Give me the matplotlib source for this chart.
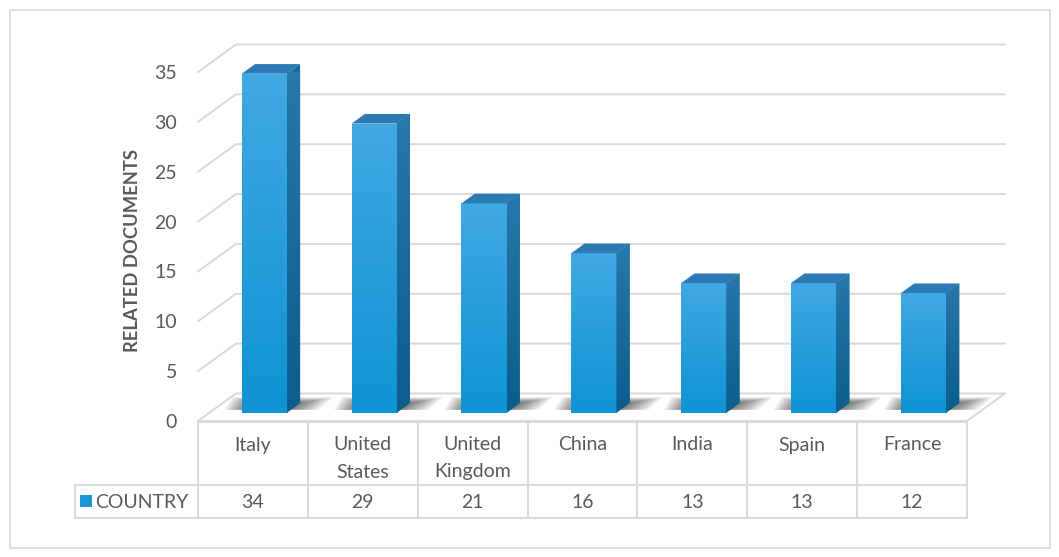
import numpy as np
import matplotlib
matplotlib.use("Agg")
import matplotlib.pyplot as plt
from matplotlib.patches import Polygon, Rectangle
from matplotlib.colors import LinearSegmentedColormap
from matplotlib.transforms import blended_transform_factory

countries = ["Italy", "United\nStates", "United\nKingdom", "China", "India", "Spain", "France"]
documents = [34, 29, 21, 16, 13, 13, 12]
series_name = "COUNTRY"
yticks = [0, 5, 10, 15, 20, 25, 30, 35]

W, H = 1059, 557
plt.rcParams['font.family'] = ['Lato', 'DejaVu Sans']
fig = plt.figure(figsize=(W / 100, H / 100), dpi=100)

# axes = front plane of the 3d box
px_l, px_r, px_b, px_t = 198, 967, 421, 72
ax = fig.add_axes([px_l / W, 1 - px_b / H, (px_r - px_l) / W, (px_b - px_t) / H])
ax.set_xlim(-0.5, len(countries) - 0.5)
ax.set_ylim(0, 35)
for s in ax.spines.values():
    s.set_visible(False)
ax.set_xticks([])
ax.set_yticks(yticks)
ax.tick_params(axis="y", length=0, pad=15, labelsize=14, labelcolor="#595959")
ax.patch.set_visible(False)

grid_c = "#d9d9d9"
dxf, dyf = 0.345, 2.76      # depth of the box (data units)
t0, tb = 0.30, 0.35         # bar front position / bar depth, as fractions of box depth
n = len(countries)

# walls: left diagonal + back gridlines
for v in yticks:
    ax.plot([-0.5, -0.5 + dxf, n - 0.5 + dxf], [v, v + dyf, v + dyf],
            color=grid_c, lw=1.4, clip_on=False, zorder=1)
# floor outline
ax.plot([-0.5, n - 0.5, n - 0.5 + dxf], [0, 0, dyf], color=grid_c, lw=1.4, clip_on=False, zorder=1)

front_cm = LinearSegmentedColormap.from_list("f", ["#0f93d3", "#40a8e3"])
side_cm = LinearSegmentedColormap.from_list("s", ["#0b5d8d", "#2878ab"])
grad = np.linspace(0, 1, 100).reshape(-1, 1)

bw = 0.41
ox, oy = dxf * t0, dyf * t0
bx, by = dxf * tb, dyf * tb
bars = ax.bar(np.arange(n) + ox, documents, width=bw, bottom=oy, color="#1a9ad8",
              zorder=5, clip_on=False)
for i, (rect, v) in enumerate(zip(bars, documents)):
    xl = rect.get_x()
    xr = xl + bw
    top = oy + v
    # shadow on the floor behind the bar (soft, built from stacked translucent layers)
    for k in range(10):
        g = 0.025 * k
        sh = Polygon([(xl - 0.06 - g * 0.7 + bx * 0.5, oy + by * 0.3),
                      (xr + 0.04 + g * 1.1, oy + by * 0.3),
                      (xr + 0.04 + g * 1.1 + bx * 1.1, oy + by * 1.1 + g * 2.2),
                      (xl - 0.06 - g * 0.7 + bx * 1.1, oy + by * 1.1 + g * 2.2)],
                     closed=True, facecolor="#1a1a1a", edgecolor="none", alpha=0.07,
                     zorder=3, clip_on=False)
        ax.add_patch(sh)
    # front gradient
    im = ax.imshow(grad, extent=[xl, xr, oy, top], origin="lower", aspect="auto",
                   cmap=front_cm, zorder=6)
    im.set_clip_path(rect)
    # side face
    side = Polygon([(xr, oy), (xr + bx, oy + by), (xr + bx, top + by), (xr, top)],
                   closed=True, facecolor="#1a6a9c", edgecolor="none", zorder=5, clip_on=False)
    ax.add_patch(side)
    im2 = ax.imshow(grad, extent=[xr, xr + bx, oy, top + by], origin="lower", aspect="auto",
                    cmap=side_cm, zorder=6)
    im2.set_clip_path(side)
    # top face
    ax.add_patch(Polygon([(xl, top), (xl + bx, top + by), (xr + bx, top + by), (xr, top)],
                         closed=True, facecolor="#2c7ab4", edgecolor="none", zorder=7,
                         clip_on=False))
ax.set_xlim(-0.5, n - 0.5)
ax.set_ylim(0, 35)

# data table below the plot
tr = blended_transform_factory(ax.transData, fig.transFigure)
fy = lambda p: 1 - p / H
y_top, y_mid, y_bot = fy(422), fy(485), fy(518)
leg_l = -0.5 - (198 - 75) / 110
tc = "#595959"
ax.plot([-0.5, n - 0.5], [y_top, y_top], color=grid_c, lw=1.4, transform=tr, clip_on=False)
ax.plot([leg_l, n - 0.5], [y_mid, y_mid], color=grid_c, lw=1.4, transform=tr, clip_on=False)
ax.plot([leg_l, n - 0.5], [y_bot, y_bot], color=grid_c, lw=1.4, transform=tr, clip_on=False)
ax.plot([leg_l, leg_l], [y_mid, y_bot], color=grid_c, lw=1.4, transform=tr, clip_on=False)
for j in range(n + 1):
    ax.plot([j - 0.5, j - 0.5], [y_top, y_bot], color=grid_c, lw=1.4, transform=tr, clip_on=False)
for i, (c, v) in enumerate(zip(countries, documents)):
    for k, line in enumerate(c.split("\n")):
        ax.text(i, fy(445 + 27 * k), line, transform=tr, ha="center", va="center",
                fontsize=14, color=tc)
    ax.text(i, fy(502), str(v), transform=tr, ha="center", va="center",
            fontsize=14, color=tc)
fig.patches.append(Rectangle((80 / W, fy(507)), 12 / W, 12 / H, transform=fig.transFigure,
                             facecolor="#1a96d4", edgecolor="none"))
fig.text(95 / W, fy(502), series_name, ha="left", va="center", fontsize=14, color=tc)

fig.text(133 / W, fy(250), "RELATED DOCUMENTS", rotation=90, ha="center", va="center",
         fontsize=13.2, fontweight="bold", color="#595959")

# chart frame
fig.patches.append(Rectangle((10 / W, fy(548)), 1040 / W, 538 / H, transform=fig.transFigure,
                             facecolor="none", edgecolor="#d9d9d9", lw=1.2))

fig.savefig("out.png", dpi=100)
